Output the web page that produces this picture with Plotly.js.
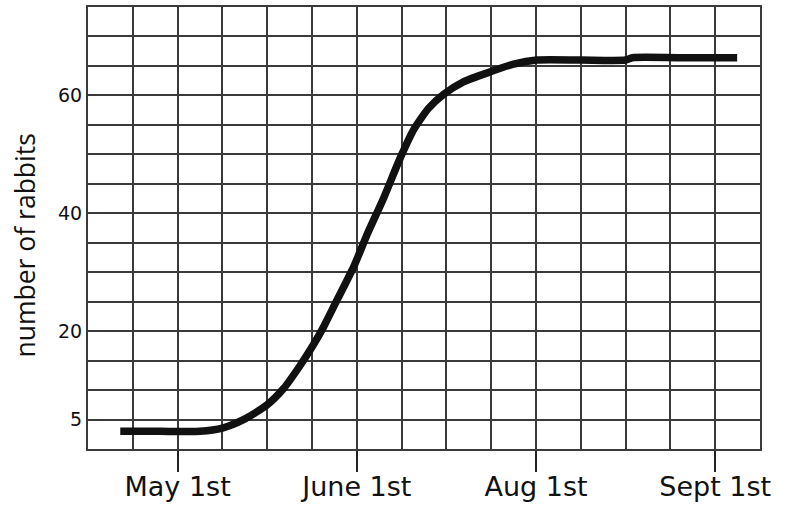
<!DOCTYPE html>
<html>
<head>
<meta charset="utf-8">
<script src="https://cdn.plot.ly/plotly-3.0.1.min.js"></script>
<style>html,body{margin:0;padding:0;background:#fff;}#chart{width:788px;height:508px;}</style>
</head>
<body>
<div id="chart"></div>
<script>
// x in grid-cell units (each cell ~ one week), y = number of rabbits
const weekX = [0.72, 1.6, 2.5, 3.0, 3.47, 4.0, 4.37, 4.72, 5.0, 5.25, 5.56, 5.93, 6.23, 6.6, 6.97, 7.27, 7.6, 7.94, 8.38, 8.98, 9.5, 10.02, 11.0, 12.0, 12.15, 13.2, 14.49];
const rabbits = [3.0, 3.0, 3.0, 3.55, 4.97, 7.5, 10.3, 14.0, 17.3, 20.6, 25.3, 30.9, 36.4, 42.6, 49.4, 54.2, 57.8, 60.2, 62.3, 64.0, 65.3, 66.0, 66.0, 66.0, 66.4, 66.4, 66.4];
const xTickVals = [2, 6, 10, 14];
const xTickText = ['May 1st', 'June 1st', 'Aug 1st', 'Sept 1st'];
const yTickVals = [5, 20, 40, 60];
const yTickText = ['5', '20', '40', '60'];
const yTitle = 'number of rabbits';

const gridCol = '#3a3a3a';
const trace = {
  x: weekX, y: rabbits, type: 'scatter', mode: 'lines',
  line: {color: '#111', width: 7.5, shape: 'spline', smoothing: 0.6},
  hoverinfo: 'skip'
};
const layout = {
  width: 788, height: 508,
  margin: {l: 88, r: 28, t: 7, b: 59},
  paper_bgcolor: '#fff', plot_bgcolor: '#fff',
  showlegend: false,
  xaxis: {
    range: [0, 15], tickmode: 'array', tickvals: xTickVals, ticktext: xTickText,
    ticks: 'outside', ticklen: 21, tickwidth: 2, tickcolor: '#222',
    ticklabelstandoff: -8,
    tickfont: {family: 'DejaVu Sans', size: 27, color: '#111'},
    showgrid: true, gridcolor: gridCol, gridwidth: 2,
    minor: {tickmode: 'linear', tick0: 0, dtick: 1, showgrid: true, gridcolor: gridCol, gridwidth: 2, ticks: ''},
    showline: true, mirror: true, linecolor: gridCol, linewidth: 2,
    zeroline: false, fixedrange: true
  },
  yaxis: {
    range: [0, 75], tickmode: 'array', tickvals: yTickVals, ticktext: yTickText,
    ticks: '', tickfont: {family: 'DejaVu Sans', size: 19, color: '#111'},
    showgrid: true, gridcolor: gridCol, gridwidth: 2,
    minor: {tickmode: 'linear', tick0: 0, dtick: 5, showgrid: true, gridcolor: gridCol, gridwidth: 2, ticks: ''},
    showline: true, mirror: true, linecolor: gridCol, linewidth: 2,
    zeroline: false, fixedrange: true
  },
  annotations: [{
    text: yTitle, xref: 'paper', yref: 'paper', x: -0.094, y: 0.46,
    xanchor: 'center', yanchor: 'middle', textangle: -90, showarrow: false,
    font: {family: 'Open Sans', size: 26.5, color: '#111'}
  }]
};
Plotly.newPlot('chart', [trace], layout, {displayModeBar: false, staticPlot: true});
</script>
</body>
</html>
